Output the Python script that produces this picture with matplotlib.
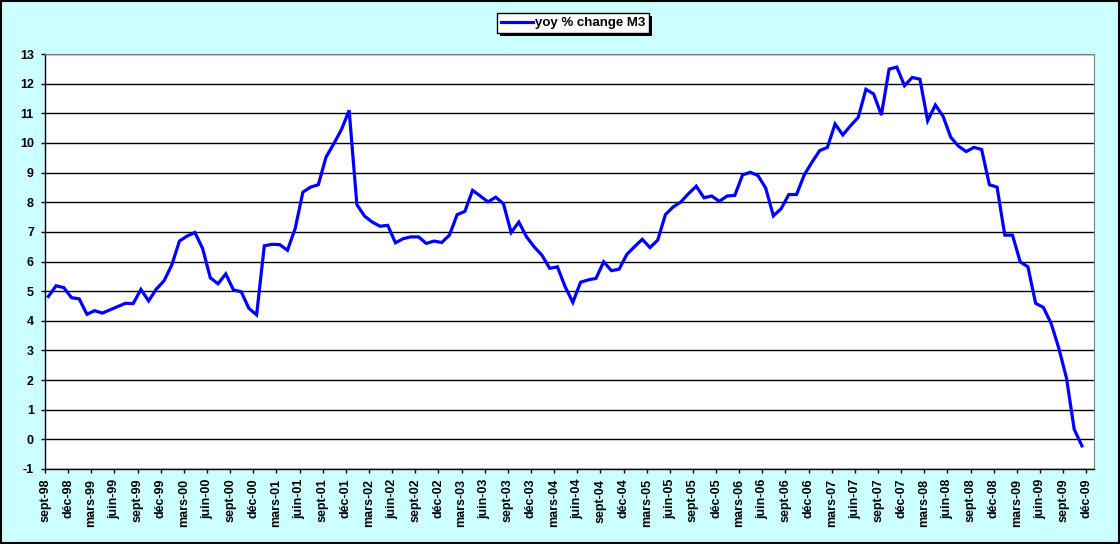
import matplotlib
matplotlib.use("Agg")
import matplotlib.pyplot as plt
import matplotlib.patheffects as pe
import numpy as np

plt.rcParams["axes.unicode_minus"] = False

# Monthly yoy % change of M3, sept-98 .. nov-09
m3_yoy = [
    4.82, 5.18, 5.12, 4.78, 4.74, 4.22, 4.34, 4.26, 4.37, 4.48, 4.59, 4.58,   # sept-98 .. août-99
    5.06, 4.67, 5.07, 5.35, 5.88, 6.69, 6.86, 6.98, 6.44, 5.45, 5.25, 5.58,   # sept-99 .. août-00
    5.04, 4.98, 4.42, 4.20, 6.53, 6.58, 6.57, 6.38, 7.11, 8.34, 8.51, 8.59,   # sept-00 .. août-01
    9.52, 9.97, 10.45, 11.10, 7.92, 7.53, 7.33, 7.19, 7.22, 6.63, 6.77, 6.83, # sept-01 .. août-02
    6.83, 6.61, 6.69, 6.64, 6.89, 7.58, 7.69, 8.40, 8.21, 8.01, 8.17, 7.95,   # sept-02 .. août-03
    6.98, 7.33, 6.83, 6.49, 6.21, 5.77, 5.82, 5.15, 4.62, 5.30, 5.38, 5.43,   # sept-03 .. août-04
    5.99, 5.69, 5.74, 6.24, 6.50, 6.75, 6.47, 6.72, 7.58, 7.84, 8.01, 8.29,   # sept-04 .. août-05
    8.54, 8.15, 8.21, 8.03, 8.21, 8.23, 8.92, 9.01, 8.90, 8.48, 7.54, 7.78,   # sept-05 .. août-06
    8.26, 8.26, 8.92, 9.35, 9.74, 9.85, 10.64, 10.27, 10.58, 10.86, 11.81, 11.65,  # sept-06 .. août-07
    10.94, 12.49, 12.56, 11.93, 12.21, 12.15, 10.75, 11.28, 10.90, 10.19, 9.89, 9.71,  # sept-07 .. août-08
    9.85, 9.78, 8.59, 8.51, 6.89, 6.89, 5.99, 5.82, 4.59, 4.45, 3.92, 3.08,   # sept-08 .. août-09
    2.07, 0.34, -0.22,                                                          # sept-09 .. nov-09
]

quarter_months = ["sept", "déc", "mars", "juin"]
tick_labels = []
for k in range(46):
    year = 98 + (k + 2) // 4
    tick_labels.append(f"{quarter_months[k % 4]}-{year % 100:02d}")

series_name = "yoy % change M3"

bg = "#CCFFFF"
fig = plt.figure(figsize=(11.2, 5.44), dpi=100, facecolor=bg)
ax = fig.add_axes([0.0402, 0.1379, 0.9366, 0.7628])
ax.set_facecolor("white")

x = np.arange(len(m3_yoy)) + 0.43
ax.plot(x, m3_yoy, color="#0000FF", lw=2.3, label=series_name, zorder=3,
        solid_joinstyle="miter")

ax.set_ylim(-1, 13)
ax.set_yticks(range(-1, 14))
ax.set_xlim(0, 136)
ax.set_xticks(np.arange(0, 136, 3))
ax.set_xticklabels(tick_labels[:len(ax.get_xticks())], rotation=90)

ax.grid(axis="y", color="black", lw=1)
ax.set_axisbelow(True)
for s in ["top", "right"]:
    ax.spines[s].set_color("#808080")
for s in ["left", "bottom"]:
    ax.spines[s].set_color("black")
    ax.spines[s].set_linewidth(1)

ax.tick_params(axis="both", direction="out", length=3, width=1, color="black",
               labelsize=9)
ax.tick_params(axis="y", pad=5)
ax.tick_params(axis="x", pad=4)
for lab in ax.get_xticklabels() + ax.get_yticklabels():
    lab.set_fontweight("bold")
    lab.set_family("Liberation Sans")

leg = fig.legend(loc="upper center", bbox_to_anchor=(0.5116, 0.988), frameon=True,
                 fancybox=False, shadow=False, edgecolor="black", framealpha=1,
                 prop={"family": "Liberation Sans", "weight": "bold", "size": 9.5},
                 handlelength=2.4, handletextpad=0.15, borderpad=0.3)
leg.get_frame().set_linewidth(1)
leg.get_frame().set_path_effects([pe.withSimplePatchShadow(offset=(2, -2), shadow_rgbFace="black", alpha=1)])

# figure border
fig.patches.append(plt.Rectangle((0.001, 0.001), 0.998, 0.998, transform=fig.transFigure,
                                 fill=False, edgecolor="black", lw=1.5))

fig.savefig("out.png", dpi=100, facecolor=bg)
